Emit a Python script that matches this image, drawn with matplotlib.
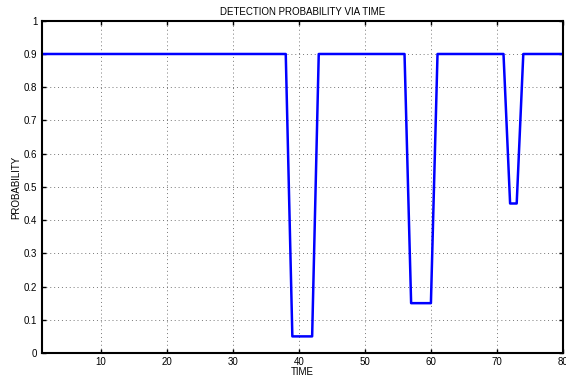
import numpy as np
import matplotlib
matplotlib.use('Agg')
import matplotlib.pyplot as plt

# donnees
time = np.arange(1, 81)
dip_times = [39, 40, 41, 42, 57, 58, 59, 60, 72, 73]
dip_values = [0.05, 0.05, 0.05, 0.05, 0.15, 0.15, 0.15, 0.15, 0.45, 0.45]
base_value = 0.9

prob = np.full(len(time), base_value)
for t, v in zip(dip_times, dip_values):
    prob[t - 1] = v

plt.rcParams['font.family'] = ['Liberation Sans', 'DejaVu Sans']
plt.rcParams['font.size'] = 7

fig = plt.figure(figsize=(5.66, 3.81), dpi=100)
ax = fig.add_axes([0.0735, 0.0735, 0.921, 0.872])
ax.plot(time, prob, color='#0000ff', lw=1.8)

ax.set_xlim(1, 80)
ax.set_ylim(0, 1)
ax.set_xticks(np.arange(10, 81, 10))
ax.set_yticks(np.arange(0, 1.01, 0.1))
ax.set_yticklabels(['0', '0.1', '0.2', '0.3', '0.4', '0.5', '0.6', '0.7', '0.8', '0.9', '1'])
ax.grid(True, linestyle=(0, (1, 3)), color='#777777', lw=0.7)
ax.tick_params(direction='in', length=3, width=1, top=True, right=True, pad=3)
for s in ax.spines.values():
    s.set_linewidth(1.5)

ax.set_title('DETECTION PROBABILITY VIA TIME', fontsize=7, pad=4)
ax.set_xlabel('TIME', fontsize=7, labelpad=0)
ax.set_ylabel('PROBABILITY', fontsize=7, labelpad=2)

fig.savefig('out.png', dpi=100)
